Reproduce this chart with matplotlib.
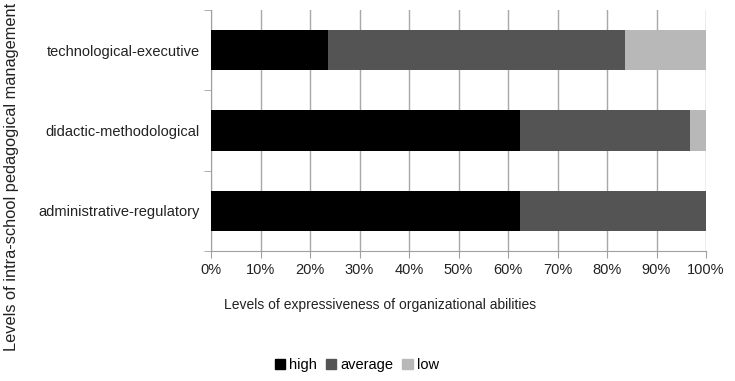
import matplotlib
matplotlib.use("Agg")
import matplotlib.pyplot as plt
from matplotlib.ticker import FixedLocator, PercentFormatter
from matplotlib.patches import Patch

plt.rcParams['font.family'] = ['Liberation Sans', 'DejaVu Sans']

categories = ["administrative-regulatory", "didactic-methodological", "technological-executive"]
high = [62.4, 62.4, 23.7]
average = [37.6, 34.4, 59.9]
low = [0.0, 3.2, 16.4]
series_names = ["high", "average", "low"]
colors = ["#000000", "#545454", "#b8b8b8"]

fig = plt.figure(figsize=(7.35, 3.81), dpi=100)
ax = fig.add_axes([211 / 735, 1 - 251 / 381, 495 / 735, 241 / 381])

ypos = list(range(len(categories)))
left = [0.0] * len(categories)
for vals, name, c in zip([high, average, low], series_names, colors):
    ax.barh(ypos, vals, left=left, height=0.5, color=c, label=name, zorder=3)
    left = [a + b for a, b in zip(left, vals)]

ax.set_xlim(0, 100)
ax.set_ylim(-0.5, len(categories) - 0.5)
ax.set_xticks(range(0, 101, 10))
ax.xaxis.set_major_formatter(PercentFormatter(decimals=0))
ax.set_yticks(ypos)
ax.set_yticklabels(categories)
ax.yaxis.set_minor_locator(FixedLocator([i - 0.5 for i in range(len(categories) + 1)]))
ax.tick_params(axis='y', which='major', length=0, pad=8, labelsize=10.5, colors='#222222')
ax.tick_params(axis='y', which='minor', length=5, color='#a0a0a0')
ax.tick_params(axis='x', length=5, color='#a0a0a0', labelsize=10.5, labelcolor='#222222', pad=4)
ax.grid(axis='x', color='#a8a8a8', linewidth=1, zorder=0)

for s in ['top', 'right']:
    ax.spines[s].set_visible(False)
for s in ['left', 'bottom']:
    ax.spines[s].set_color('#a0a0a0')

fig.text(224 / 735, 1 - 305 / 381, "Levels of expressiveness of organizational abilities",
         fontsize=10, color='#222222', va='center', ha='left')
fig.text(12 / 735, 1 - 177 / 381, "Levels of intra-school pedagogical management",
         fontsize=11.8, color='#222222', rotation=90, va='center', ha='center')

handles = [Patch(color=c, label=n) for c, n in zip(colors, series_names)]
fig.legend(handles=handles, loc='center', bbox_to_anchor=(357 / 735, 1 - 365 / 381), ncol=3,
           frameon=False, fontsize=10.5, handlelength=0.7, handleheight=0.7,
           handletextpad=0.3, columnspacing=0.6)

fig.savefig("out.png", dpi=100)
